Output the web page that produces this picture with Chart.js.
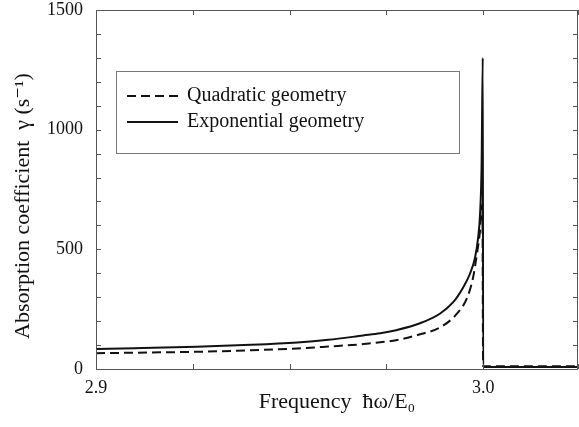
<!DOCTYPE html>
<html>
<head>
<meta charset="utf-8">
<script src="https://cdn.jsdelivr.net/npm/chart.js@4/dist/chart.umd.min.js"></script>
<style>
  html, body { margin: 0; padding: 0; background: #fff; }
  #wrap { width: 579px; height: 427px; }
</style>
</head>
<body>
<div id="wrap"><canvas id="absorptionChart"></canvas></div>
<script>
// values
const freqQuad = [2.9, 2.91, 2.926, 2.94, 2.952, 2.96, 2.969, 2.9734, 2.9775, 2.9837, 2.9889, 2.9933, 2.9959, 2.9974, 2.9984, 2.9992, 2.9998, 3.0, 3.0245];
const gammaQuad = [66, 68, 72, 78, 86, 94, 104, 112, 120, 145, 174, 232, 299, 382, 481, 577, 690, 11, 11];

const freqExp = [2.9, 2.91, 2.926, 2.94, 2.952, 2.96, 2.969, 2.9734, 2.9775, 2.9837, 2.9889, 2.9922, 2.9948, 2.9966, 2.9979, 2.9987, 2.9992, 2.9996, 2.9999, 3.0, 3.0245];
const gammaExp = [84, 87, 93, 101, 111, 122, 140, 149, 162, 191, 232, 278, 340, 398, 465, 548, 647, 850, 1300, 8, 8];

const seriesNames = ['Quadratic geometry', 'Exponential geometry'];
const yTickLabels = [0, 500, 1000, 1500];
const xTickLabels = [2.9, 3.0];

const serif = "'Liberation Serif', 'DejaVu Serif', serif";

function toPoints(xs, ys) {
    return xs.map(function(x, i) { return { x: x, y: ys[i] }; });
}

// box frame, inward tick marks and the boxed legend
const framePlugin = {
    id: 'frameTicks',
    afterDraw: function(chart) {
        const ctx = chart.ctx;
        const a = chart.chartArea;
        const xs = chart.scales.x, ys = chart.scales.y;
        ctx.save();
        ctx.strokeStyle = '#555';
        ctx.lineWidth = 1;
        ctx.strokeRect(a.left + 0.5, a.top + 0.5, a.right - a.left - 1, a.bottom - a.top);
        ctx.beginPath();
        ys.ticks.forEach(function(t) {
            const py = Math.round(ys.getPixelForValue(t.value)) + 0.5;
            ctx.moveTo(a.left, py); ctx.lineTo(a.left + 5, py);
            ctx.moveTo(a.right, py); ctx.lineTo(a.right - 5, py);
        });
        xs.ticks.forEach(function(t) {
            const px = Math.round(xs.getPixelForValue(t.value)) + 0.5;
            ctx.moveTo(px, a.bottom); ctx.lineTo(px, a.bottom - 5);
            ctx.moveTo(px, a.top); ctx.lineTo(px, a.top + 5);
        });
        ctx.stroke();

        // legend
        const lx = 116, ly = 71, lw = 343, lh = 82;
        ctx.strokeStyle = '#777';
        ctx.strokeRect(lx + 0.5, ly + 0.5, lw, lh);
        ctx.font = '20px ' + serif;
        ctx.fillStyle = '#111';
        ctx.textBaseline = 'middle';
        chart.data.datasets.forEach(function(ds, i) {
            const cy = 96 + i * 26;
            ctx.strokeStyle = '#111';
            ctx.lineWidth = 2;
            ctx.setLineDash(ds.borderDash || []);
            ctx.beginPath();
            ctx.moveTo(127, cy); ctx.lineTo(178, cy);
            ctx.stroke();
            ctx.setLineDash([]);
            ctx.fillText(ds.label, 187, cy);
        });
        ctx.restore();
    }
};

const ctx = document.getElementById('absorptionChart').getContext('2d');
const absorptionChart = new Chart(ctx, {
    type: 'line',
    data: {
        datasets: [{
            label: seriesNames[0],
            data: toPoints(freqQuad, gammaQuad),
            borderColor: '#111',
            borderWidth: 2,
            borderDash: [9, 5],
            pointRadius: 0,
            cubicInterpolationMode: 'monotone',
            fill: false
        }, {
            label: seriesNames[1],
            data: toPoints(freqExp, gammaExp),
            borderColor: '#111',
            borderWidth: 2,
            pointRadius: 0,
            cubicInterpolationMode: 'monotone',
            fill: false
        }]
    },
    options: {
        responsive: true,
        maintainAspectRatio: false,
        animation: false,
        layout: { padding: { left: 0, right: 1, top: 10, bottom: 0 } },
        plugins: {
            legend: { display: false },
            tooltip: { enabled: false }
        },
        scales: {
            x: {
                type: 'linear',
                min: 2.9,
                max: 3.0245,
                grid: { display: false, drawTicks: false },
                border: { display: false },
                ticks: {
                    stepSize: 0.025,
                    autoSkip: false,
                    maxRotation: 0,
                    padding: 8,
                    color: '#111',
                    font: { family: serif, size: 18 },
                    callback: function(v) {
                        const hit = xTickLabels.find(function(t) { return Math.abs(t - v) < 1e-6; });
                        return hit === undefined ? '' : hit.toFixed(1);
                    }
                },
                title: {
                    display: true,
                    text: 'Frequency  \u0127\u03C9/E\u2080',
                    color: '#111',
                    font: { family: serif, size: 22 },
                    padding: { top: 0, bottom: 12 }
                },
                afterFit: function(s) {
                    s.height = 58;
                    s.paddingLeft = 0; s.paddingRight = 0;
                }
            },
            y: {
                min: 0,
                max: 1500,
                grid: { display: false, drawTicks: false },
                border: { display: false },
                ticks: {
                    stepSize: 100,
                    autoSkip: false,
                    padding: 13,
                    color: '#111',
                    font: { family: serif, size: 18 },
                    callback: function(v) {
                        return yTickLabels.indexOf(v) >= 0 ? String(v) : '';
                    }
                },
                title: {
                    display: true,
                    text: 'Absorption coefficient  \u03B3 (s\u207B\u00B9)      ',
                    color: '#111',
                    font: { family: serif, size: 22 },
                    padding: { top: 10, bottom: 0 }
                },
                afterFit: function(s) {
                    s.width = 96;
                    s.paddingTop = 0; s.paddingBottom = 0;
                }
            }
        }
    },
    plugins: [framePlugin]
});
</script>
</body>
</html>
